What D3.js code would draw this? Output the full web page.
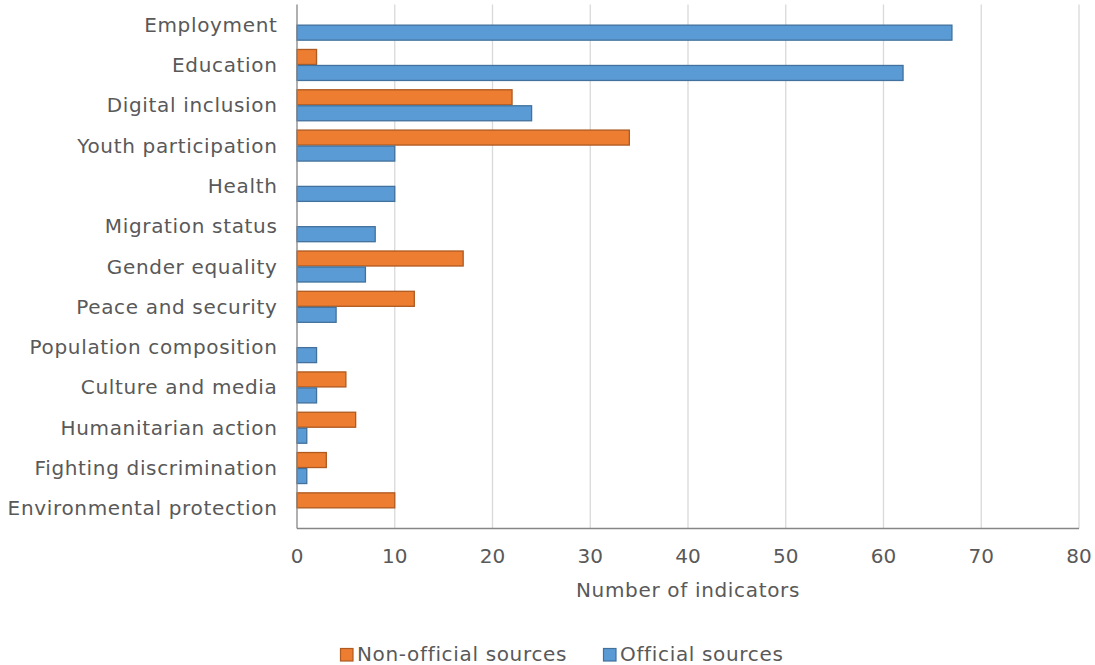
<!DOCTYPE html>
<html><head><meta charset="utf-8">
<script src="https://cdn.jsdelivr.net/npm/d3@7"></script>
<style>body{margin:0;background:#fff;} text{font-family:"DejaVu Sans",Verdana,sans-serif;fill:#595959;}</style>
</head><body>
<svg id="c" width="1095" height="665"></svg>
<script>
const categories = ["Employment","Education","Digital inclusion","Youth participation","Health","Migration status","Gender equality","Peace and security","Population composition","Culture and media","Humanitarian action","Fighting discrimination","Environmental protection"];
const nonOfficial = [0,2,22,34,0,0,17,12,0,5,6,3,10];
const official = [67,62,24,10,10,8,7,4,2,2,1,1,0];
const xTicks = [0,10,20,30,40,50,60,70,80];
const seriesNames = ["Non-official sources","Official sources"];
const colors = ["#ED7D31","#5B9BD5"];
const strokes = ["#AE5A21","#41719C"];

const svg = d3.select("#c");
const pL = 297, pR = 1079, pT = 4.5, pB = 528.5;
const x = d3.scaleLinear().domain([0,80]).range([pL,pR]);
const y = d3.scaleBand().domain(categories).range([pT,pB]).padding(0);
const barH = 16;
const LS = "0.66px";

// gridlines
svg.append("g").selectAll("line").data(xTicks.slice(1)).join("line")
  .attr("x1",d=>x(d)).attr("x2",d=>x(d)).attr("y1",pT).attr("y2",pB)
  .attr("stroke","#d9d9d9").attr("stroke-width",1.3);

const series = [nonOfficial, official];
series.forEach((vals,si)=>{
  svg.append("g").selectAll("rect").data(categories.map((c,i)=>({c,v:vals[i]})).filter(d=>d.v>0)).join("rect")
    .attr("x",x(0)).attr("width",d=>x(d.v)-x(0))
    .attr("y",d=>y(d.c)+y.bandwidth()/2 - barH + si*barH + 0.5).attr("height",barH-1)
    .attr("fill",colors[si]).attr("stroke",strokes[si]).attr("stroke-width",1.3);
});

// axes lines
svg.append("line").attr("x1",pL).attr("x2",pL).attr("y1",pT).attr("y2",pB).attr("stroke","#868686").attr("stroke-width",1.3);
svg.append("line").attr("x1",pL).attr("x2",pR).attr("y1",pB).attr("y2",pB).attr("stroke","#868686").attr("stroke-width",1.3);

// category labels
svg.append("g").selectAll("text").data(categories).join("text")
  .attr("x",277.5).attr("y",d=>y(d)+y.bandwidth()/2).attr("text-anchor","end")
  .attr("dominant-baseline","central").attr("font-size",20).style("letter-spacing",LS).text(d=>d);

// tick labels
svg.append("g").selectAll("text").data(xTicks).join("text")
  .attr("x",d=>x(d)).attr("y",563).attr("text-anchor","middle").attr("font-size",20).text(d=>d);

svg.append("text").attr("x",(pL+pR)/2).attr("y",597).attr("text-anchor","middle").attr("font-size",20).style("letter-spacing",LS).text("Number of indicators");

// legend
const leg = svg.append("g");
const lx = [340, 603];
seriesNames.forEach((n,i)=>{
  leg.append("rect").attr("x",lx[i]+0.5).attr("y",648.5).attr("width",12.5).attr("height",12.5)
    .attr("fill",colors[i]).attr("stroke",strokes[i]).attr("stroke-width",1.2);
  leg.append("text").attr("x",lx[i]+17).attr("y",661).attr("font-size",20).style("letter-spacing",LS).text(n);
});
</script>
</body></html>
